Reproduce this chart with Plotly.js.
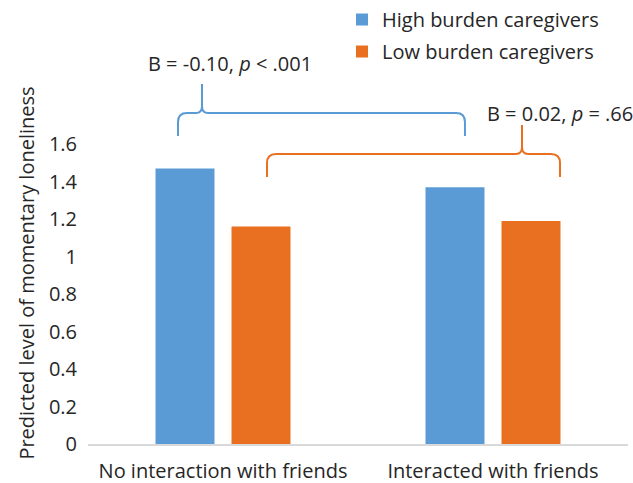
<!DOCTYPE html>
<html>
<head>
<meta charset="utf-8">
<script src="https://cdn.plot.ly/plotly-3.0.1.min.js"></script>
<style>html,body{margin:0;padding:0;background:#fff;}#chart{width:633px;height:483px;}</style>
</head>
<body>
<div id="chart"></div>
<script>
var categories = ["No interaction with friends", "Interacted with friends"];
var highBurden = [1.47, 1.37];
var lowBurden = [1.16, 1.19];
var seriesNames = ["High burden caregivers", "Low burden caregivers"];
var yTickVals = [0, 0.2, 0.4, 0.6, 0.8, 1, 1.2, 1.4, 1.6];
var yTickText = ["0", "0.2", "0.4", "0.6", "0.8", "1", "1.2", "1.4", "1.6"];
var annotB1 = "B = -0.10, <i>p</i> < .001";
var annotB2 = "B = 0.02, <i>p</i> = .66";

var W = 633, H = 483;
var ML = 88, MR = 5, MT = 102, MB = 39;
var plotW = W - ML - MR, plotH = H - MT - MB;
function px(x) { return ((x - ML) / plotW).toFixed(4); }
function py(y) { return ((H - MB - y) / plotH).toFixed(4); }
function P(x, y) { return px(x) + "," + py(y); }

function bracePath(x1, x2, xp, yl, ytip, ypeak, r) {
  return "M" + P(x1, ytip) +
    " L" + P(x1, yl + r) +
    " Q" + P(x1, yl) + " " + P(x1 + r, yl) +
    " L" + P(xp - 6, yl) +
    " Q" + P(xp, yl) + " " + P(xp, yl - 7) +
    " L" + P(xp, ypeak) +
    " M" + P(xp, yl - 7) +
    " Q" + P(xp, yl) + " " + P(xp + 6, yl) +
    " L" + P(x2 - r, yl) +
    " Q" + P(x2, yl) + " " + P(x2, yl + r) +
    " L" + P(x2, ytip);
}

var blue = "#5b9bd5", orange = "#e97020";
var font = "'Open Sans', 'Noto Sans', sans-serif";
var txt = "#262626";
var fs = 20;

var data = [
  {type: "bar", x: categories, y: highBurden, name: seriesNames[0], marker: {color: blue}, legendgroup: "a"},
  {type: "bar", x: categories, y: lowBurden, name: seriesNames[1], marker: {color: orange}, legendgroup: "b"}
];

var layout = {
  width: W, height: H,
  margin: {l: ML, r: MR, t: MT, b: MB, pad: 0, autoexpand: false},
  paper_bgcolor: "#fff", plot_bgcolor: "#fff",
  font: {family: font, size: fs, color: txt},
  barmode: "group", bargap: 0.437, bargroupgap: 0.224,
  showlegend: true,
  legend: {x: px(342), y: py(0), xanchor: "left", yanchor: "top", traceorder: "grouped", tracegroupgap: 3,
           font: {size: fs, family: font, color: txt}, bgcolor: "rgba(0,0,0,0)"},
  xaxis: {type: "category", showline: true, linecolor: "#d9d9d9", linewidth: 1.5, showgrid: false, zeroline: false,
          ticks: "", ticklabelstandoff: 8, tickfont: {size: fs, family: font, color: txt}},
  yaxis: {range: [0, plotH / 187.5], tickvals: yTickVals, ticktext: yTickText, showline: false, showgrid: false,
          zeroline: false, ticks: "outside", ticklen: 6, tickcolor: "rgba(0,0,0,0)", tickfont: {size: fs, family: font, color: txt},
          title: {text: "Predicted level of momentary loneliness", standoff: 8, font: {size: fs, family: font, color: txt}}},
  shapes: [
    {type: "path", xref: "paper", yref: "paper", path: bracePath(178, 465, 202, 113, 136, 84, 9), line: {color: blue, width: 2}},
    {type: "path", xref: "paper", yref: "paper", path: bracePath(267, 560, 522, 154, 177, 125, 9), line: {color: orange, width: 2}}
  ],
  annotations: [
    {xref: "paper", yref: "paper", x: px(230), y: py(63), text: annotB1, showarrow: false, xanchor: "center", yanchor: "middle", font: {size: fs, family: font, color: txt}},
    {xref: "paper", yref: "paper", x: px(560), y: py(113), text: annotB2, showarrow: false, xanchor: "center", yanchor: "middle", font: {size: fs, family: font, color: txt}}
  ]
};

Plotly.newPlot("chart", data, layout, {displayModeBar: false, staticPlot: true});
</script>
</body>
</html>
